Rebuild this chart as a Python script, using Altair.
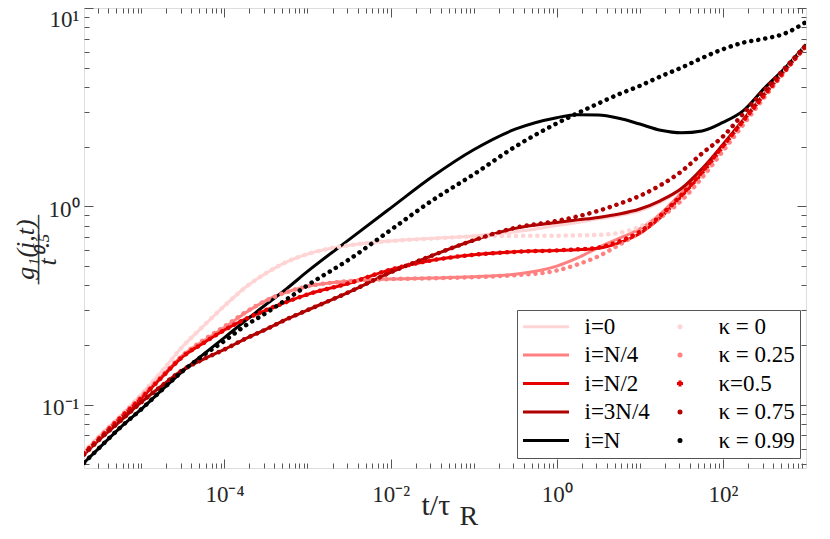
import altair as alt
import pandas as pd

# ---------------- data ----------------
LOG_T = [-5.69, -5.5, -5.25, -5.0, -4.75, -4.5, -4.25, -4.0, -3.75, -3.5, -3.25, -3.0,
         -2.5, -2.0, -1.5, -1.0, -0.5, 0.0, 0.25, 0.5, 0.75, 1.0, 1.25, 1.5, 1.75,
         2.0, 2.25, 2.5, 2.75, 3.0]

I_0 = [0.058, 0.070, 0.088, 0.113, 0.148, 0.197, 0.250, 0.315, 0.390, 0.460, 0.525, 0.575,
       0.637, 0.670, 0.690, 0.710, 0.745, 0.800, 0.830, 0.865, 0.900, 0.950, 1.050, 1.220,
       1.520, 2.020, 2.720, 3.680, 4.900, 6.500]
I_N4 = [0.057, 0.069, 0.087, 0.110, 0.140, 0.178, 0.210, 0.245, 0.290, 0.335, 0.370, 0.395,
        0.420, 0.430, 0.435, 0.442, 0.455, 0.500, 0.550, 0.620, 0.690, 0.770, 0.920, 1.170,
        1.500, 2.000, 2.700, 3.650, 4.850, 6.450]
I_N2 = [0.057, 0.068, 0.086, 0.108, 0.138, 0.175, 0.205, 0.238, 0.270, 0.300, 0.330, 0.360,
        0.410, 0.480, 0.535, 0.570, 0.590, 0.600, 0.605, 0.615, 0.655, 0.730, 0.880, 1.120,
        1.460, 1.980, 2.700, 3.650, 4.850, 6.450]
I_3N4 = [0.056, 0.067, 0.083, 0.103, 0.125, 0.150, 0.170, 0.190, 0.215, 0.240, 0.270, 0.300,
         0.370, 0.465, 0.565, 0.675, 0.775, 0.830, 0.855, 0.880, 0.915, 0.970, 1.070, 1.230,
         1.550, 2.050, 2.750, 3.700, 4.900, 6.450]
I_N = [0.051, 0.061, 0.077, 0.095, 0.119, 0.148, 0.180, 0.218, 0.265, 0.320, 0.385, 0.470,
       0.680, 0.980, 1.410, 1.930, 2.450, 2.800, 2.900, 2.890, 2.780, 2.600, 2.420, 2.350,
       2.400, 2.650, 3.050, 3.950, 5.000, 6.550]

K_0 = [0.058, 0.070, 0.088, 0.113, 0.148, 0.197, 0.250, 0.315, 0.390, 0.460, 0.525, 0.575,
       0.637, 0.668, 0.688, 0.705, 0.710, 0.712, 0.714, 0.718, 0.735, 0.790, 0.900, 1.080,
       1.400, 1.950, 2.680, 3.650, 4.850, 6.450]
K_025 = [0.057, 0.069, 0.087, 0.110, 0.140, 0.178, 0.212, 0.248, 0.292, 0.335, 0.370, 0.395,
         0.420, 0.430, 0.434, 0.440, 0.450, 0.475, 0.510, 0.560, 0.640, 0.740, 0.880, 1.070,
         1.400, 1.900, 2.600, 3.550, 4.800, 6.450]
K_05 = [0.057, 0.068, 0.086, 0.108, 0.138, 0.175, 0.205, 0.238, 0.270, 0.300, 0.330, 0.360,
        0.410, 0.480, 0.535, 0.570, 0.590, 0.600, 0.607, 0.620, 0.665, 0.745, 0.900, 1.140,
        1.500, 2.020, 2.720, 3.650, 4.850, 6.450]
K_075 = [0.056, 0.067, 0.083, 0.103, 0.125, 0.150, 0.170, 0.190, 0.215, 0.240, 0.270, 0.300,
         0.370, 0.465, 0.565, 0.675, 0.780, 0.845, 0.890, 0.950, 1.030, 1.130, 1.280, 1.500,
         1.850, 2.250, 2.950, 3.850, 5.000, 6.500]
K_099 = [0.051, 0.061, 0.077, 0.095, 0.119, 0.148, 0.178, 0.210, 0.250, 0.290, 0.340, 0.400,
         0.540, 0.760, 1.070, 1.450, 2.000, 2.620, 2.950, 3.300, 3.680, 4.050, 4.520, 5.000,
         5.600, 6.200, 6.700, 7.000, 7.450, 8.500]

LINE_NAMES = ["i=0", "i=N/4", "i=N/2", "i=3N/4", "i=N"]
DOT_NAMES = ["κ = 0", "κ = 0.25", "κ=0.5", "κ = 0.75", "κ = 0.99"]
LINE_VALUES = [I_0, I_N4, I_N2, I_3N4, I_N]
DOT_VALUES = [K_0, K_025, K_05, K_075, K_099]
COLORS = ["#FFD4D4", "#FF8080", "#E60000", "#B00000", "#000000"]

X_MAJOR = [1e-4, 1e-2, 1.0, 1e2]
X_MAJOR_LABELS = ["10⁻⁴", "10⁻²", "10⁰", "10²"]
Y_MAJOR = [0.1, 1.0, 10.0]
Y_MAJOR_LABELS = ["10⁻¹", "10⁰", "10¹"]
X_TITLE = "t/τ"
X_TITLE_SUB = "R"
Y_TITLE = ["g₁(i,t)", "———", "t⁰·⁵"]

X_DOMAIN = [10 ** -5.69, 1e3]
Y_DOMAIN = [0.048, 10.0]

# ---------------- table ----------------
rows = []
for name, vals in zip(LINE_NAMES + DOT_NAMES, LINE_VALUES + DOT_VALUES):
    for lt, v in zip(LOG_T, vals):
        rows.append({"s": name, "t": 10 ** lt, "g": v})
df = pd.DataFrame(rows)

# ---------------- styling helpers ----------------
SERIF = "Liberation Serif"
TXT = "#262626"
AXC = "#555555"


def ticks_between(lo, hi, majors):
    out = []
    for e in range(-7, 4):
        for m in range(1, 10):
            v = m * 10.0 ** e
            if lo * 1.0001 < v < hi * 0.9999 and all(abs(v - mj) > mj * 1e-6 for mj in majors):
                out.append(v)
    return out


X_MINOR = ticks_between(X_DOMAIN[0], X_DOMAIN[1], X_MAJOR)
Y_MINOR = ticks_between(Y_DOMAIN[0], Y_DOMAIN[1], Y_MAJOR)


def label_expr(values, labels):
    parts = [f"abs(datum.value - {v}) < {v * 1e-6} ? '{lab}'" for v, lab in zip(values, labels)]
    return " : ".join(parts) + " : ''"


def tick_axis(orient, values, size, offset):
    return alt.Axis(orient=orient, values=values, tickSize=size, offset=offset, labels=False,
                    domain=False, grid=False, title=None, tickColor=AXC, tickWidth=1)


W, H = 722, 460
xs = alt.Scale(type="log", domain=X_DOMAIN, nice=False)
ys = alt.Scale(type="log", domain=Y_DOMAIN, nice=False)

ax_x_lab = alt.Axis(orient="bottom", values=X_MAJOR, labelExpr=label_expr(X_MAJOR, X_MAJOR_LABELS),
                    ticks=False, domain=False, grid=False, labelFont=SERIF, labelFontSize=23,
                    labelColor=TXT, labelPadding=15, labelAngle=0, labelOverlap=False,
                    title=X_TITLE, titleFont=SERIF, titleFontSize=30, titleFontWeight="normal",
                    titleColor=TXT, titleX=337, titleY=46, titleAlign="left",
                    titleBaseline="alphabetic")
ax_x_sub = alt.Axis(orient="bottom", labels=False, ticks=False, domain=False, grid=False,
                    title=X_TITLE_SUB, titleFont=SERIF, titleFontSize=28,
                    titleFontWeight="normal", titleColor=TXT, titleX=375, titleY=56,
                    titleAlign="left", titleBaseline="alphabetic")
ax_y_lab = alt.Axis(orient="left", values=Y_MAJOR, labelExpr=label_expr(Y_MAJOR, Y_MAJOR_LABELS),
                    ticks=False, domain=False, grid=False, labelFont=SERIF, labelFontSize=23,
                    labelColor=TXT, labelPadding=5, labelOffset=3, labelFlush=1,
                    labelFlushOffset=3, labelOverlap=False,
                    title=Y_TITLE, titleFont=SERIF, titleFontStyle="italic",
                    titleFontSize=26, titleFontWeight="normal", titleColor=TXT, titleAngle=270,
                    titleX=-51, titleY=241, titleAlign="center", titleBaseline="alphabetic",
                    titleLineHeight=11)

x_axes = [ax_x_lab,
          tick_axis("top", X_MINOR, 5, -H), tick_axis("top", X_MAJOR, 9, -H),
          tick_axis("bottom", X_MINOR, 5, -H), tick_axis("bottom", X_MAJOR, 9, -H)]
y_axes = [ax_y_lab,
          tick_axis("right", Y_MINOR, 5, -W), tick_axis("right", Y_MAJOR, 9, -W),
          tick_axis("left", Y_MINOR, 5, -W), tick_axis("left", Y_MAJOR, 9, -W)]

layers = []
for k, (name, col) in enumerate(zip(LINE_NAMES, COLORS)):
    layers.append(
        alt.Chart(df).transform_filter(alt.datum.s == name)
        .mark_line(interpolate="monotone", color=col, strokeWidth=3, clip=True)
        .encode(x=alt.X("t:Q", scale=xs, axis=x_axes[k]),
                y=alt.Y("g:Q", scale=ys, axis=y_axes[k]),
                order="t:Q")
    )
for k, (name, col) in enumerate(zip(DOT_NAMES, COLORS)):
    layers.append(
        alt.Chart(df).transform_filter(alt.datum.s == name)
        .mark_line(interpolate="monotone", color=col, strokeWidth=4.5, strokeCap="round",
                   strokeDash=[0.1, 7], clip=True)
        .encode(x=alt.X("t:Q", scale=xs, axis=ax_x_sub if k == 0 else None),
                y=alt.Y("g:Q", scale=ys, axis=None),
                order="t:Q")
    )

# ---------------- legend (two columns, filled column by column) ----------------
LINE_SYMBOL = "M-23,0H23"
PLUS_SYMBOL = "M-3,0H3M0,-3V3"
DOT_SHAPES = ["circle", "circle", PLUS_SYMBOL, "circle", "circle"]
LEG_LABELS = LINE_NAMES + DOT_NAMES
LEG_COLORS = COLORS + COLORS
LEG_SHAPES = [LINE_SYMBOL] * 5 + DOT_SHAPES

leg = alt.Legend(orient="none", legendX=433, legendY=302, columns=2, direction="vertical",
                 gridAlign="each", title=None, labelFont=SERIF, labelFontSize=23,
                 labelColor="black", labelOffset=27, symbolOffset=12.5, symbolSize=4,
                 symbolStrokeWidth=3, clipHeight=23, rowPadding=4.5, columnPadding=6,
                 padding=5, strokeColor=AXC, fillColor="white", labelLimit=0, symbolOpacity=1)
leg_df = pd.DataFrame({"lab": LEG_LABELS})
layers.append(
    alt.Chart(leg_df).transform_filter("false").mark_point(filled=True, opacity=1)
    .encode(fill=alt.Fill("lab:N", scale=alt.Scale(domain=LEG_LABELS, range=LEG_COLORS), legend=leg),
            stroke=alt.Stroke("lab:N", scale=alt.Scale(domain=LEG_LABELS, range=LEG_COLORS), legend=leg),
            shape=alt.Shape("lab:N", scale=alt.Scale(domain=LEG_LABELS, range=LEG_SHAPES), legend=leg))
)

chart = (
    alt.layer(*layers)
    .resolve_axis(x="independent", y="independent")
    .properties(width=W, height=H, autosize=alt.AutoSizeParams(type="none"),
                padding={"left": 76, "top": 0, "right": 16, "bottom": 63})
    .configure_view(stroke=AXC, strokeWidth=1)
    .configure(background="white")
)

chart.save("out.html", embed_options={"renderer": "svg", "actions": False})
